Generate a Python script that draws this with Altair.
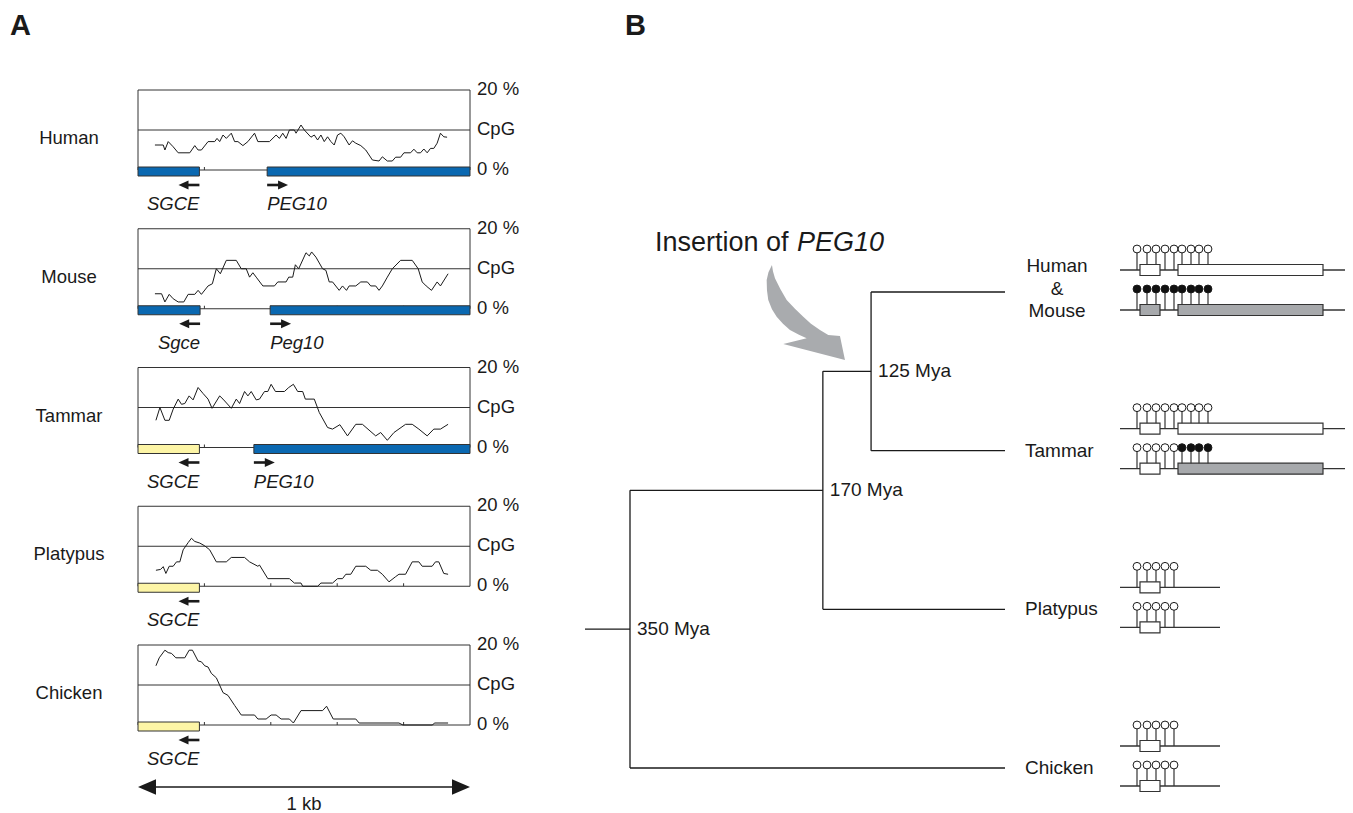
import altair as alt
import pandas as pd

FONT = "Liberation Sans"
INK = "#1a1a1a"
EDGE = "#333333"
BLUE = "#0a68b1"
YELLOW = "#fdf5a6"
GRAY_BOX = "#a7a9ac"
GRAY_ARROW = "#a9abae"

# ---------------- Panel A data: CpG content (%) along 1 kb ----------------
species_a = ["Human", "Mouse", "Tammar", "Platypus", "Chicken"]

human_bp = [51, 76, 81, 91, 106, 121, 156, 171, 181, 191, 211, 231, 238, 246, 256, 266, 281, 291, 301, 316,
            331, 351, 361, 396, 416, 426, 436, 446, 456, 471, 476, 491, 501, 521, 531, 541, 551, 561, 571, 581,
            591, 601, 611, 621, 636, 646, 656, 671, 686, 706, 726, 736, 751, 766, 776, 791, 801, 821, 831, 841,
            851, 861, 871, 881, 891, 901, 911, 921, 931]
human_cpg = [6.25, 6.25, 5.0, 7.1, 5.8, 4.3, 4.3, 6.1, 5.0, 5.0, 7.1, 7.1, 7.9, 7.1, 8.75, 7.9, 9.2, 7.1, 7.1, 6.1,
             7.1, 9.2, 7.1, 7.1, 8.75, 7.9, 9.2, 7.9, 10.0, 10.0, 9.2, 11.25, 10.0, 8.2, 8.75, 7.5, 8.75, 7.1, 8.3, 7.1,
             6.25, 8.75, 9.2, 8.3, 6.25, 7.3, 6.7, 6.1, 5.0, 2.5, 2.25, 3.3, 2.25, 2.25, 3.2, 3.2, 4.3, 4.3, 5.2, 4.3,
             4.3, 5.25, 4.3, 5.4, 5.4, 6.7, 9.2, 8.3, 8.2]

mouse_bp = [51, 71, 81, 94, 106, 121, 138, 151, 171, 181, 191, 211, 224, 236, 248, 266, 296, 311, 326, 336,
            346, 356, 376, 411, 421, 446, 454, 466, 474, 484, 506, 516, 523, 536, 556, 566, 576, 586, 606, 616,
            628, 636, 656, 671, 691, 701, 716, 726, 736, 751, 766, 791, 826, 844, 856, 868, 884, 901, 911, 934]
mouse_cpg = [3.75, 3.75, 1.7, 3.6, 2.5, 1.7, 1.7, 3.6, 3.6, 4.6, 3.6, 5.7, 6.25, 10.0, 8.75, 12.1, 12.1, 10.0, 10.0, 7.9,
             9.0, 7.9, 5.7, 5.7, 6.7, 6.7, 7.9, 7.9, 11.0, 10.0, 14.0, 13.2, 14.2, 12.9, 10.0, 9.6, 6.7, 6.7, 4.6, 5.7,
             4.6, 5.7, 5.7, 6.7, 6.7, 5.7, 5.7, 4.6, 5.7, 7.9, 10.0, 12.1, 12.1, 10.0, 6.7, 5.7, 4.6, 6.7, 5.7, 8.75]

tammar_bp = [54, 66, 81, 94, 106, 121, 131, 141, 154, 166, 181, 196, 211, 223, 246, 256, 281, 296, 306, 321,
             331, 341, 356, 366, 381, 391, 401, 414, 441, 454, 468, 481, 496, 504, 531, 546, 571, 586, 608, 631,
             656, 676, 716, 731, 751, 771, 806, 826, 846, 871, 891, 911, 934]
tammar_cpg = [6.8, 10.0, 6.8, 6.8, 9.6, 12.1, 10.8, 11.0, 12.9, 11.9, 15.0, 13.5, 12.1, 9.8, 12.9, 12.1, 9.8, 12.1, 11.0, 14.0,
              12.9, 14.0, 11.9, 12.1, 14.0, 14.0, 15.8, 14.0, 14.0, 15.0, 15.8, 14.0, 14.0, 12.1, 12.1, 8.75, 5.0, 4.6, 5.7, 2.9,
              5.8, 5.8, 2.9, 3.75, 1.8, 3.75, 5.8, 5.8, 4.6, 2.9, 4.6, 4.6, 5.8]

platypus_bp = [54, 68, 76, 84, 94, 106, 116, 126, 136, 151, 161, 171, 186, 201, 216, 236, 266, 281, 321, 336,
               361, 366, 391, 456, 471, 491, 496, 541, 551, 586, 601, 616, 626, 641, 656, 686, 701, 721, 736, 756,
               776, 786, 806, 826, 846, 856, 886, 896, 906, 921, 934]
platypus_cpg = [4.0, 4.2, 4.9, 3.2, 5.0, 5.0, 6.1, 6.1, 9.1, 10.9, 12.0, 11.2, 10.8, 10.1, 9.1, 6.1, 6.1, 7.2, 7.2, 6.1,
                5.0, 5.3, 1.9, 1.9, 0.8, 0.8, 0.0, 0.0, 0.8, 0.8, 1.9, 1.9, 3.0, 3.0, 5.0, 5.0, 4.0, 4.0, 3.0, 1.1,
                2.4, 3.0, 3.0, 6.1, 6.1, 5.0, 5.0, 6.1, 6.1, 3.2, 3.0]

chicken_bp = [54, 64, 81, 91, 101, 114, 141, 154, 164, 181, 191, 201, 211, 221, 236, 256, 271, 291, 311, 351,
              361, 386, 401, 416, 431, 456, 468, 491, 556, 568, 588, 656, 666, 786, 798, 886, 894, 934]
chicken_cpg = [14.8, 16.8, 18.7, 18.1, 17.9, 16.8, 16.8, 18.7, 18.7, 16.0, 15.8, 14.8, 14.5, 12.9, 11.8, 8.1, 7.4, 4.9, 2.5, 2.5,
               1.5, 1.5, 2.5, 2.5, 1.5, 1.5, 0.5, 3.6, 3.6, 4.7, 1.5, 1.5, 0.5, 0.5, 0.0, 0.0, 0.5, 0.5]

traces_bp = {"Human": human_bp, "Mouse": mouse_bp, "Tammar": tammar_bp, "Platypus": platypus_bp, "Chicken": chicken_bp}
traces_cpg = {"Human": human_cpg, "Mouse": mouse_cpg, "Tammar": tammar_cpg, "Platypus": platypus_cpg, "Chicken": chicken_cpg}

# genes in the 1 kb window
gene_species = ["Human", "Human", "Mouse", "Mouse", "Tammar", "Tammar", "Platypus", "Chicken"]
gene_names = ["SGCE", "PEG10", "Sgce", "Peg10", "SGCE", "PEG10", "SGCE", "SGCE"]
gene_start = [0, 389, 0, 398, 0, 349, 0, 0]
gene_end = [185, 1000, 187, 1000, 185, 1000, 185, 185]
gene_strand = ["-", "+", "-", "+", "-", "+", "-", "-"]
gene_status = ["imprinted", "imprinted", "imprinted", "imprinted", "biallelic", "imprinted", "biallelic", "biallelic"]

WINDOW = [0, 1000]
PCT_RANGE = [0, 20]
CPG_LEVEL = 10
tick_bp = [200, 400, 600, 800]
level_values = [20, 10, 0]
level_labels = ["20 %", "CpG", "0 %"]
ARROW_BP = 63
scale_label = "1 kb"

# ---------------- Panel B data: tree + methylation ----------------
leaf_names = ["Human\n&\nMouse", "Tammar", "Platypus", "Chicken"]
node_names = ["n125", "n170", "n350"]
node_ages = [125, 170, 350]
node_labels = ["125 Mya", "170 Mya", "350 Mya"]
node_children = [["Human\n&\nMouse", "Tammar"], ["n125", "Platypus"], ["n170", "Chicken"]]
ROOT_STEM = 42
insertion_branch = "n125"

site_pos = [17, 27, 36, 45, 54, 62, 71, 79, 88]
has_peg10 = [True, True, False, False]
meth_allele1 = [[0] * 9, [0] * 9, [0] * 5, [0] * 5]
meth_allele2 = [[1] * 9, [0, 0, 0, 0, 0, 1, 1, 1, 1], [0] * 5, [0] * 5]
sgce_box_meth = [[0, 0, 0, 0], [1, 0, 0, 0]]
peg10_box_meth = [[0, 0], [1, 1]]
SGCE_EXON = [20, 40]
PEG10_EXON = [58, 203]
BACKBONE_LONG = 225
BACKBONE_SHORT = 100

LEFT_HEAD = "M0,0L2,-0.9L2,0.9Z"
RIGHT_HEAD = "M0,0L-2,-0.9L-2,0.9Z"
BIG_LEFT = "M0,0L2,-0.85L2,0.85Z"
BIG_RIGHT = "M0,0L-2,-0.85L-2,0.85Z"
CURVED_ARROW = ("M-75,-106.3 L-78.5,-99 L-80.3,-91.3 L-80,-81 L-78.7,-71.3 L-75,-62 L-70.3,-54.6 "
                "L-64,-47.5 L-57,-41.3 L-48,-36.5 L-40.3,-33 L-63.7,-27.3 L-2,-11.3 L-7,-35.3 "
                "L-18.7,-36.3 L-27,-41.3 L-36,-47.5 L-43.7,-54.6 L-52,-62.5 L-60.3,-71.3 L-66.5,-82 "
                "L-72,-93 L-74,-100 Z")


def lin(domain, rng):
    return alt.Scale(domain=domain, range=rng, nice=False, zero=False)


def txt(**kw):
    base = dict(font=FONT, color=INK, fontSize=18.5, baseline="middle")
    base.update(kw)
    return base


genes_df = pd.DataFrame({"species": gene_species, "name": gene_names, "start": gene_start,
                         "end": gene_end, "strand": gene_strand, "status": gene_status})
genes_df["lvl"] = 0
genes_df["tail"] = [e if s == "-" else b for b, e, s in zip(gene_start, gene_end, gene_strand)]
genes_df["head"] = [t - ARROW_BP if s == "-" else t + ARROW_BP for t, s in zip(genes_df["tail"], gene_strand)]


def panel_a(i):
    sp = species_a[i]
    top = 82 + i * 138.75
    xs = lin(WINDOW, [130, 462])
    ys = lin(PCT_RANGE, [top + 80, top])

    def X(f):
        return alt.X(f, type="quantitative", scale=xs, axis=None)

    def Y(f):
        return alt.Y(f, type="quantitative", scale=ys, axis=None)

    lo, hi = WINDOW
    p0, p1 = PCT_RANGE
    frame_df = pd.DataFrame({"x": [lo, hi, lo, lo, lo], "x2": [lo, hi, hi, hi, hi],
                             "y": [p0, p0, p1, CPG_LEVEL, p0], "y2": [p1, p1, p1, CPG_LEVEL, p0]})
    layers = []
    layers.append(alt.Chart(frame_df).mark_rule(color=EDGE, strokeWidth=1).encode(
        x=X("x"), x2=alt.X2("x2"), y=Y("y"), y2=alt.Y2("y2")))
    ticks_df = pd.DataFrame({"bp": tick_bp, "lvl": [p0] * len(tick_bp)})
    layers.append(alt.Chart(ticks_df).mark_rule(color=EDGE, strokeWidth=1, y2Offset=-3).encode(
        x=X("bp"), y=Y("lvl"), y2=alt.Y2("lvl")))
    trace_df = pd.DataFrame({"bp": traces_bp[sp], "cpg": traces_cpg[sp]})
    layers.append(alt.Chart(trace_df).mark_line(color=INK, strokeWidth=1).encode(x=X("bp"), y=Y("cpg")))

    g = genes_df[genes_df.species == sp]
    layers.append(alt.Chart(g).mark_rect(yOffset=-3, y2Offset=6, stroke=EDGE, strokeWidth=1).encode(
        x=X("start"), x2=alt.X2("end"), y=Y("lvl"), y2=alt.Y2("lvl"),
        color=alt.Color("status:N", scale=alt.Scale(domain=["imprinted", "biallelic"], range=[BLUE, YELLOW]),
                        legend=None)))
    for strand, off, head, align, anchor in [("-", 6, LEFT_HEAD, "right", "end"), ("+", -6, RIGHT_HEAD, "left", "start")]:
        gs = g[g.strand == strand]
        if len(gs) == 0:
            continue
        layers.append(alt.Chart(gs).mark_rule(color=INK, strokeWidth=2.6, yOffset=15, x2Offset=off).encode(
            x=X("tail"), x2=alt.X2("head"), y=Y("lvl")))
        layers.append(alt.Chart(gs).mark_point(shape=head, size=100, filled=True, opacity=1, color=INK,
                                               yOffset=15).encode(x=X("head"), y=Y("lvl")))
        layers.append(alt.Chart(gs).mark_text(**txt(align=align, dy=34, fontStyle="italic")).encode(
            x=X(anchor), y=Y("lvl"), text="name:N"))

    lev_df = pd.DataFrame({"x": [hi] * 3, "lvl": level_values, "label": level_labels})
    layers.append(alt.Chart(lev_df).mark_text(**txt(align="left", dx=7, dy=-1)).encode(
        x=X("x"), y=Y("lvl"), text="label:N"))
    sp_df = pd.DataFrame({"x": [lo], "lvl": [CPG_LEVEL], "name": [sp]})
    layers.append(alt.Chart(sp_df).mark_text(**txt(align="center", dx=-69, dy=8)).encode(
        x=X("x"), y=Y("lvl"), text="name:N"))

    if i == 0:
        a_df = pd.DataFrame({"x": [lo], "lvl": [p1], "t": ["A"]})
        layers.append(alt.Chart(a_df).mark_text(**txt(align="left", baseline="alphabetic", dx=-128, dy=-55,
                                                      fontSize=29, fontWeight="bold")).encode(
            x=X("x"), y=Y("lvl"), text="t:N"))
    if i == len(species_a) - 1:
        kb_df = pd.DataFrame({"a": [lo], "b": [hi], "mid": [(lo + hi) / 2], "lvl": [p0], "label": [scale_label]})
        layers.append(alt.Chart(kb_df).mark_rule(color=INK, strokeWidth=1.6, yOffset=62, xOffset=14,
                                                 x2Offset=-14).encode(x=X("a"), x2=alt.X2("b"), y=Y("lvl")))
        layers.append(alt.Chart(kb_df).mark_point(shape=BIG_LEFT, size=324, filled=True, opacity=1, color=INK,
                                                  yOffset=62).encode(x=X("a"), y=Y("lvl")))
        layers.append(alt.Chart(kb_df).mark_point(shape=BIG_RIGHT, size=324, filled=True, opacity=1, color=INK,
                                                  yOffset=62).encode(x=X("b"), y=Y("lvl")))
        layers.append(alt.Chart(kb_df).mark_text(**txt(align="center", dy=79)).encode(
            x=X("mid"), y=Y("lvl"), text="label:N"))
    return alt.layer(*layers)


# ---------------- Panel B: tree ----------------
age = {n: 0 for n in leaf_names}
ypos = {n: float(k) for k, n in enumerate(leaf_names)}
parent = {}
for n, a, ch in zip(node_names, node_ages, node_children):
    age[n] = a
    ypos[n] = sum(ypos[c] for c in ch) / len(ch)
    for c in ch:
        parent[c] = n

seg = []
for n, ch in zip(node_names, node_children):
    ys_ = [ypos[c] for c in ch]
    seg.append((age[n], age[n], min(ys_), max(ys_)))
    for c in ch:
        seg.append((age[n], age[c], ypos[c], ypos[c]))
root = node_names[-1]
seg.append((age[root] + ROOT_STEM, age[root], ypos[root], ypos[root]))
seg_df = pd.DataFrame(seg, columns=["x", "x2", "y", "y2"])

tx = lin([0, 350], [997, 622])
ty = lin([0, 3], [284, 760])


def TX(f):
    return alt.X(f, type="quantitative", scale=tx, axis=None)


def TY(f):
    return alt.Y(f, type="quantitative", scale=ty, axis=None)


node_df = pd.DataFrame({"age": node_ages, "y": [ypos[n] for n in node_names], "label": node_labels})
leaf_df = pd.DataFrame({"age": [0] * len(leaf_names), "y": [ypos[n] for n in leaf_names], "name": leaf_names})
leaf_df["multi"] = leaf_df["name"].str.contains("\n")
ev_age = (age[parent[insertion_branch]] + age[insertion_branch]) / 2
ev_df = pd.DataFrame({"age": [ev_age], "y": [ypos[insertion_branch]], "a": ["Insertion of "], "b": ["PEG10"]})
b_df = pd.DataFrame({"age": [age[root]], "y": [0.0], "t": ["B"]})

tree = alt.layer(
    alt.Chart(seg_df).mark_rule(color=INK, strokeWidth=1.3).encode(
        x=TX("x"), x2=alt.X2("x2"), y=TY("y"), y2=alt.Y2("y2")),
    alt.Chart(node_df).mark_text(**txt(align="left", dx=7, fontSize=19)).encode(
        x=TX("age"), y=TY("y"), text="label:N"),
    alt.Chart(leaf_df).transform_filter("!datum.multi").mark_text(**txt(align="left", dx=20, fontSize=19)).encode(
        x=TX("age"), y=TY("y"), text="name:N"),
    alt.Chart(leaf_df).transform_filter("datum.multi").mark_text(
        **txt(align="center", dx=52, dy=-26, fontSize=19, lineBreak="\n", lineHeight=22.5)).encode(
        x=TX("age"), y=TY("y"), text="name:N"),
    alt.Chart(ev_df).mark_point(shape=CURVED_ARROW, size=4, filled=True, opacity=1, color=GRAY_ARROW).encode(
        x=TX("age"), y=TY("y")),
    alt.Chart(ev_df).mark_text(**txt(align="left", dx=-192, dy=-128, fontSize=27)).encode(
        x=TX("age"), y=TY("y"), text="a:N"),
    alt.Chart(ev_df).mark_text(**txt(align="left", dx=-50, dy=-128, fontSize=27, fontStyle="italic")).encode(
        x=TX("age"), y=TY("y"), text="b:N"),
    alt.Chart(b_df).mark_text(**txt(align="left", baseline="alphabetic", dx=-5, dy=-257, fontSize=29,
                                    fontWeight="bold")).encode(x=TX("age"), y=TY("y"), text="t:N"),
)

# ---------------- Panel B: methylation diagrams ----------------
bb_rows, box_rows, site_rows = [], [], []
for r, name in enumerate(leaf_names):
    bb_rows.append((ypos[name], 0, BACKBONE_LONG if has_peg10[r] else BACKBONE_SHORT))
    for al, meth in ((1, meth_allele1[r]), (2, meth_allele2[r])):
        box_rows.append((ypos[name], al, SGCE_EXON[0], SGCE_EXON[1],
                         "methylated" if sgce_box_meth[al - 1][r] else "unmethylated"))
        if has_peg10[r]:
            box_rows.append((ypos[name], al, PEG10_EXON[0], PEG10_EXON[1],
                             "methylated" if peg10_box_meth[al - 1][r] else "unmethylated"))
        for p, m in zip(site_pos, meth):
            site_rows.append((ypos[name], al, p, "methylated" if m else "unmethylated"))
bb_df = pd.DataFrame(bb_rows, columns=["y", "start", "end"])
box_df = pd.DataFrame(box_rows, columns=["y", "allele", "start", "end", "state"])
site_df = pd.DataFrame(site_rows, columns=["y", "allele", "pos", "state"])

gx = lin([0, 225], [1112, 1337])


def GX(f):
    return alt.X(f, type="quantitative", scale=gx, axis=None)


def GY(f):
    return alt.Y(f, type="quantitative", scale=ty, axis=None)


STEM = 21
gene_layers = []
for al, off in ((1, -22), (2, 18)):
    gene_layers.append(alt.Chart(bb_df).mark_rule(color=EDGE, strokeWidth=1.3, yOffset=off).encode(
        x=GX("start"), x2=alt.X2("end"), y=GY("y")))
    gene_layers.append(alt.Chart(site_df).transform_filter(alt.datum.allele == al).mark_rule(
        color=EDGE, strokeWidth=1.2, yOffset=off, y2Offset=off - STEM).encode(
        x=GX("pos"), y=GY("y"), y2=alt.Y2("y")))
    gene_layers.append(alt.Chart(box_df).transform_filter(alt.datum.allele == al).mark_rect(
        stroke=EDGE, strokeWidth=1.2, yOffset=off - 5.5, y2Offset=off + 5.5).encode(
        x=GX("start"), x2=alt.X2("end"), y=GY("y"), y2=alt.Y2("y"),
        color=alt.Color("state:N", scale=alt.Scale(domain=["unmethylated", "methylated"],
                                                   range=["#ffffff", GRAY_BOX]), legend=None)))
    gene_layers.append(alt.Chart(site_df).transform_filter(alt.datum.allele == al).mark_circle(
        size=62, opacity=1, stroke=INK, strokeWidth=1, yOffset=off - STEM).encode(
        x=GX("pos"), y=GY("y"),
        fill=alt.Fill("state:N", scale=alt.Scale(domain=["unmethylated", "methylated"],
                                                 range=["#ffffff", "#111111"]), legend=None)))
genes = alt.layer(*gene_layers)

chart = alt.layer(*[panel_a(i) for i in range(len(species_a))], tree, genes).resolve_scale(
    x="independent", y="independent", color="independent", fill="independent"
).properties(
    width=1337, height=805, padding=0, autosize=alt.AutoSizeParams(type="none")
).configure_view(stroke=None)

chart.save("out.html", embed_options={"renderer": "svg", "actions": False})
